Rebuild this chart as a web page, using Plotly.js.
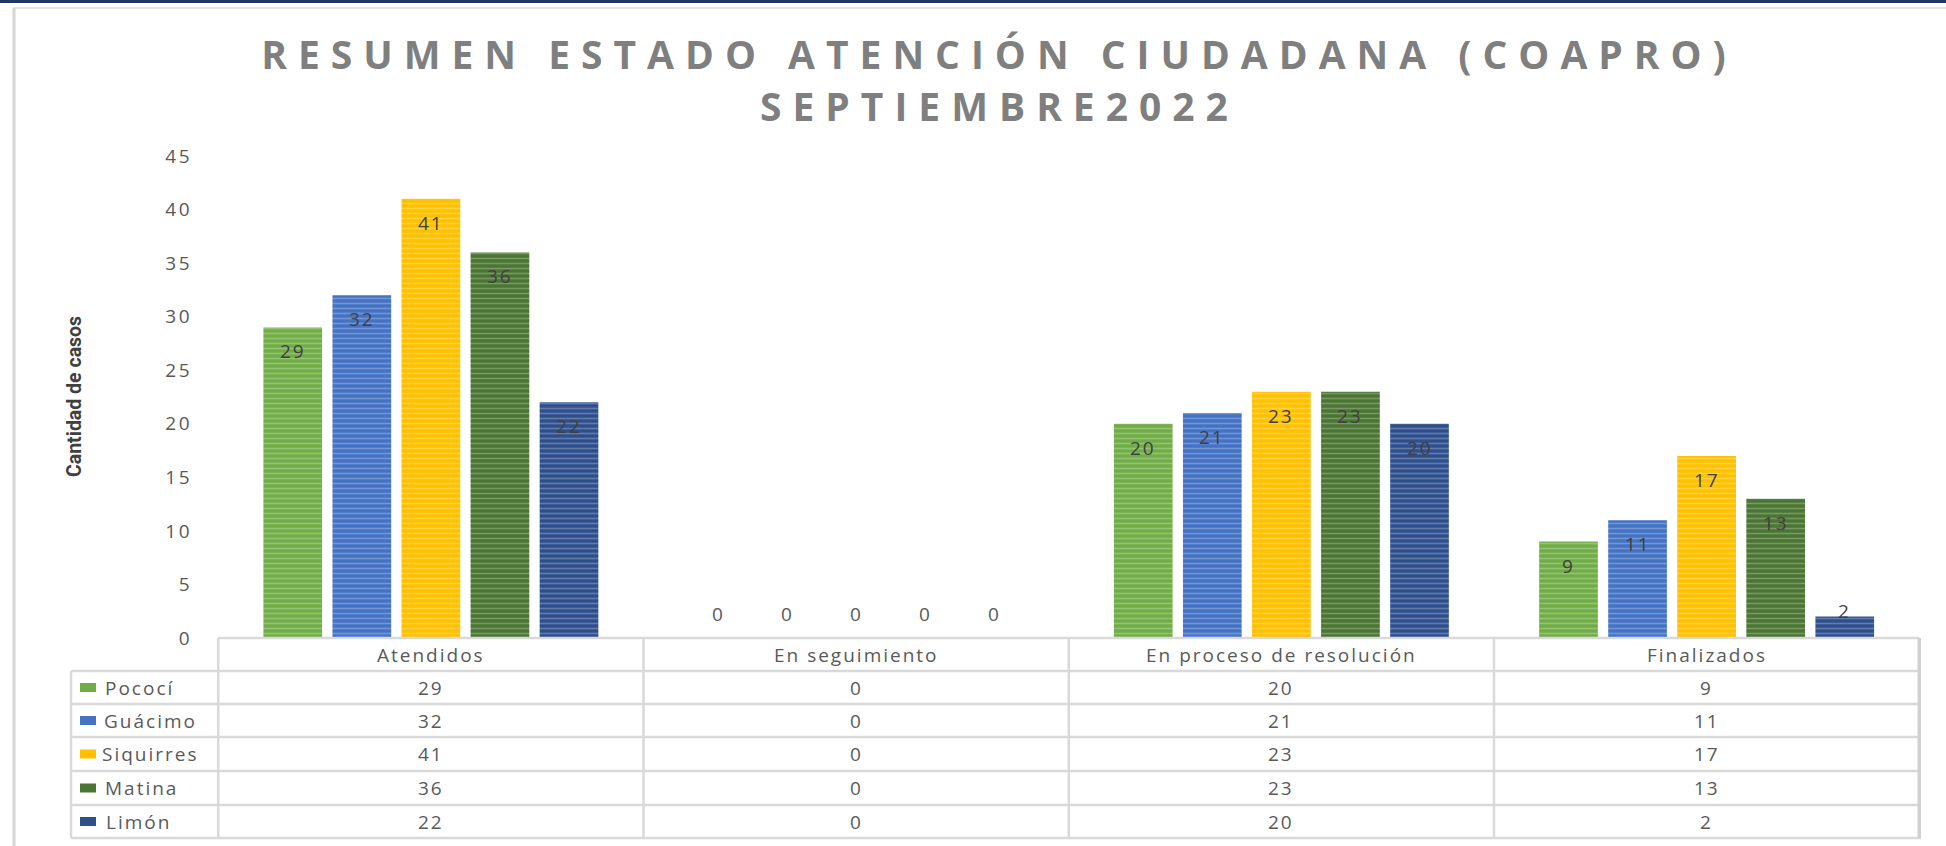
<!DOCTYPE html>
<html>
<head>
<meta charset="utf-8">
<script src="https://cdn.plot.ly/plotly-3.0.1.min.js"></script>
<style>
  html, body { margin: 0; padding: 0; background: #ffffff; }
  #chart { width: 1946px; height: 846px; }
  .infolayer .gtitle { letter-spacing: 11px; }
  .infolayer .annotation text { letter-spacing: 2px; }
  .infolayer .annotation[data-index="0"] text { letter-spacing: 11px; }
  .infolayer .annotation[data-index="1"] text { letter-spacing: 0px; }
  .ytick text { letter-spacing: 2.5px; }
</style>
</head>
<body>
<div id="chart"></div>
<script>
// ---- data ----
const categories = ["Atendidos", "En seguimiento", "En proceso de resolución", "Finalizados"];
const seriesNames = ["Pococí", "Guácimo", "Siquirres", "Matina", "Limón"];
const pococi    = [29, 0, 20, 9];
const guacimo   = [32, 0, 21, 11];
const siquirres = [41, 0, 23, 17];
const matina    = [36, 0, 23, 13];
const limon     = [22, 0, 20, 2];
const yTicks    = [0, 5, 10, 15, 20, 25, 30, 35, 40, 45];
const titleLines = ["RESUMEN ESTADO ATENCIÓN CIUDADANA (COAPRO)", "SEPTIEMBRE2022"];
const yTitle    = "Cantidad de casos";

const seriesValues = [pococi, guacimo, siquirres, matina, limon];
const seriesColors = ["#70AD47", "#4472C4", "#FFC000", "#4B7533", "#2F4F8C"];

// ---- geometry (pixels) ----
const W = 1946, H = 846;
const M = { l: 217, r: 25, t: 156, b: 208 };
const plotW = W - M.l - M.r, plotH = H - M.t - M.b;
const px = X => (X - M.l) / plotW;
const py = Y => (H - M.b - Y) / plotH;
const yMax = 45;
const pxPerUnit = plotH / yMax;

const rowLines = [638, 671, 704, 737, 771, 805, 838];
const gridColor = "#d9d9d9";
const textGray = "#595959";
const fontFam = "Open Sans, Lato, sans-serif";
const tableFont = { family: fontFam, size: 19, color: textGray };

// ---- traces ----
const traces = seriesNames.map((name, i) => ({
  type: "bar",
  name: name,
  x: categories,
  y: seriesValues[i],
  hoverinfo: "x+y+name",
  marker: {
    color: seriesColors[i],
    line: { width: 0 },
    pattern: { shape: "-", fgcolor: "rgba(255,255,255,0.5)", size: 5, solidity: 0.32, fillmode: "overlay" }
  }
}));

// ---- shapes: frame + data table ----
const shapes = [];
shapes.push({ type: "line", xref: "paper", yref: "paper", x0: px(0), x1: px(W), y0: py(1.5), y1: py(1.5), line: { color: "#1F3864", width: 3 } });
shapes.push({ type: "line", xref: "paper", yref: "paper", x0: px(13), x1: px(W), y0: py(8), y1: py(8), line: { color: "#e2e2e2", width: 2 } });
shapes.push({ type: "line", xref: "paper", yref: "paper", x0: px(14), x1: px(14), y0: py(8), y1: py(H), line: { color: "#d6d6d6", width: 3 } });

rowLines.forEach((Y, k) => {
  if (k === 0) {
    shapes.push({ type: "line", xref: "x", yref: "paper", x0: -0.5, x1: categories.length - 0.5, y0: py(Y), y1: py(Y), line: { color: gridColor, width: 2.5 } });
  } else {
    shapes.push({ type: "line", xref: "paper", yref: "paper", x0: px(71), x1: 1, y0: py(Y), y1: py(Y), line: { color: gridColor, width: 2.5 } });
  }
});
for (let j = 0; j <= categories.length; j++) {
  const last = j === categories.length;
  shapes.push({ type: "line", xref: "x", yref: "paper", x0: j - 0.5, x1: j - 0.5, y0: py(rowLines[0]), y1: py(rowLines[rowLines.length - 1]), line: { color: last ? "#d0d0d0" : gridColor, width: last ? 3.5 : 2.5 } });
}
shapes.push({ type: "line", xref: "paper", yref: "paper", x0: px(71), x1: px(71), y0: py(rowLines[1]), y1: py(rowLines[rowLines.length - 1]), line: { color: gridColor, width: 2.5 } });

seriesNames.forEach((name, i) => {
  const cy = (rowLines[i + 1] + rowLines[i + 2]) / 2;
  shapes.push({ type: "rect", xref: "paper", yref: "paper", x0: px(80), x1: px(96), y0: py(cy + 4.5), y1: py(cy - 4.5), fillcolor: seriesColors[i], line: { width: 0 } });
});

// ---- annotations ----
const annotations = [];
// index 0: title line 2
annotations.push({ xref: "paper", yref: "paper", x: px(999), y: py(106), text: titleLines[1], showarrow: false, xanchor: "center", yanchor: "middle",
  font: { family: fontFam, size: 39, color: "#7F7F7F", weight: 700 } });
// index 1: y axis title
annotations.push({ xref: "paper", yref: "paper", x: px(74), y: py(397), text: yTitle, textangle: -90, showarrow: false, xanchor: "center", yanchor: "middle",
  font: { family: "Liberation Sans Narrow, Roboto, sans-serif", size: 19.5, color: "#404040", weight: 700 } });
// header row
categories.forEach((c, j) => {
  annotations.push({ xref: "x", yref: "paper", x: c, y: py((rowLines[0] + rowLines[1]) / 2), text: c, showarrow: false, xanchor: "center", yanchor: "middle", font: tableFont });
});
// data rows
seriesNames.forEach((name, i) => {
  const cy = (rowLines[i + 1] + rowLines[i + 2]) / 2;
  annotations.push({ xref: "paper", yref: "paper", x: px(109), y: py(cy), text: name, showarrow: false, xanchor: "left", yanchor: "middle", font: tableFont });
  categories.forEach((c, j) => {
    annotations.push({ xref: "x", yref: "paper", x: c, y: py(cy), text: String(seriesValues[i][j]), showarrow: false, xanchor: "center", yanchor: "middle", font: tableFont });
  });
});

// ---- layout ----
const layout = {
  width: W, height: H,
  margin: M,
  paper_bgcolor: "#ffffff",
  plot_bgcolor: "#ffffff",
  showlegend: false,
  barmode: "group",
  bargap: 0.188,
  bargroupgap: 0.15,
  title: {
    text: titleLines[0],
    x: 999 / W, xanchor: "center",
    y: 1 - 55 / H, yanchor: "middle",
    font: { family: fontFam, size: 39, color: "#7F7F7F", weight: 700 }
  },
  xaxis: {
    type: "category",
    showticklabels: false, showgrid: false, showline: false, zeroline: false, ticks: "",
    fixedrange: true
  },
  yaxis: {
    range: [0, yMax],
    tickvals: yTicks,
    ticktext: yTicks.map(String),
    showgrid: false, showline: false, zeroline: false, ticks: "",
    ticklabelstandoff: 24,
    tickfont: { family: fontFam, size: 19, color: textGray },
    fixedrange: true
  },
  shapes: shapes,
  annotations: annotations
};

const gd = document.getElementById("chart");
Plotly.newPlot(gd, traces, layout, { displayModeBar: false, staticPlot: true }).then(() => {
  // data labels positioned at the bar centres computed by Plotly
  const labels = [];
  gd.calcdata.forEach((cd, i) => {
    cd.forEach((pt, j) => {
      const v = seriesValues[i][j];
      const xc = (typeof pt.x === "number") ? pt.x : pt.p;
      let shift;
      if (v === 0) shift = 24;
      else if (v * pxPerUnit < 32) shift = 6;
      else shift = -24;
      labels.push({
        xref: "x", yref: "y", x: xc, y: v, yshift: shift,
        text: String(v), showarrow: false, xanchor: "center", yanchor: "middle",
        font: { family: fontFam, size: 19, color: v === 0 ? textGray : "#404040" }
      });
    });
  });
  return Plotly.relayout(gd, { annotations: annotations.concat(labels) });
});
</script>
</body>
</html>
